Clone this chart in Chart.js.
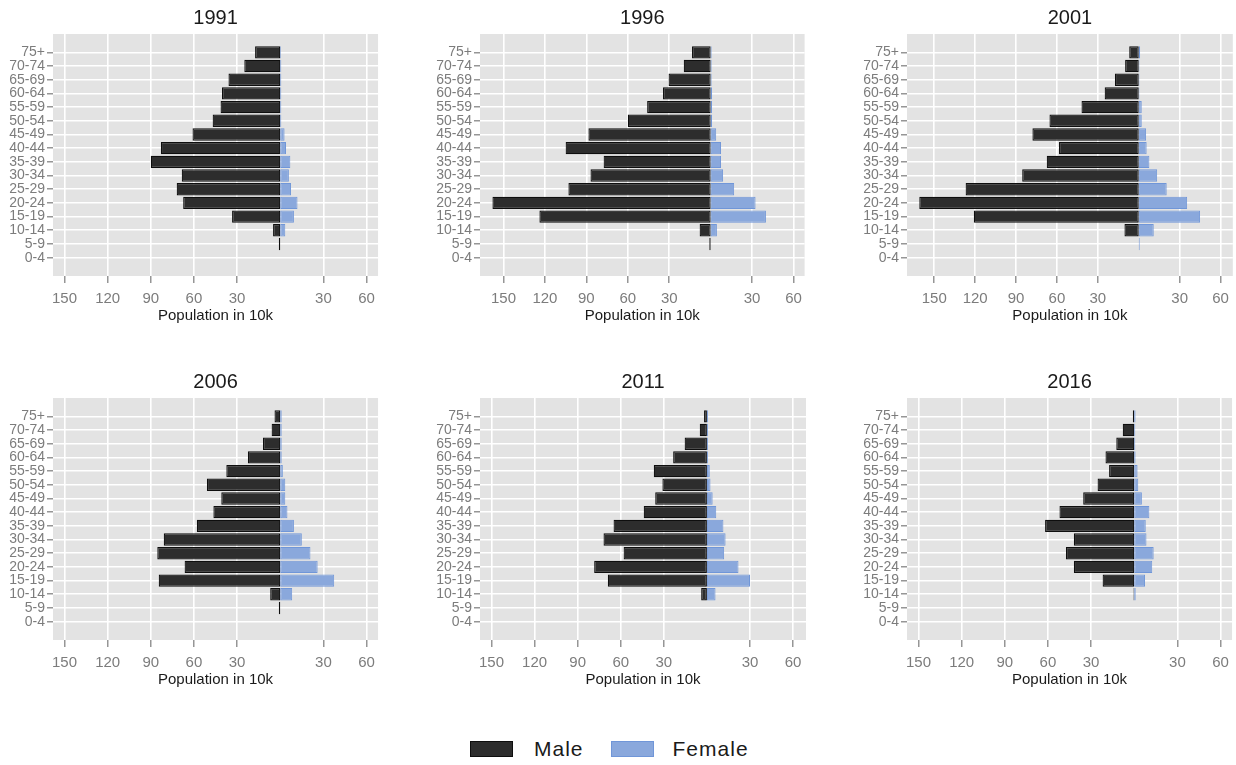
<!DOCTYPE html>
<html>
<head>
<meta charset="utf-8">
<title>Population pyramids</title>
<script src="https://cdn.jsdelivr.net/npm/chart.js@4.4.1/dist/chart.umd.min.js"></script>
<style>
  html, body { margin: 0; padding: 0; background: #fff; }
  body { width: 1236px; height: 765px; position: relative; overflow: hidden;
         font-family: "Liberation Sans", Arial, sans-serif; }
  canvas.panel { position: absolute; }
  #legend { position: absolute; left: 470px; top: 736px; height: 26px;
            display: flex; align-items: center; }
  .swatch { width: 43px; height: 16px; box-sizing: border-box; }
  .lbl { font-size: 21px; letter-spacing: 1px; color: #1a1a1a; }
</style>
</head>
<body>

<canvas class="panel" id="p0" width="382" height="330" style="left:0px;top:0px"></canvas>
<canvas class="panel" id="p1" width="382" height="330" style="left:427px;top:0px"></canvas>
<canvas class="panel" id="p2" width="382" height="330" style="left:854px;top:0px"></canvas>
<canvas class="panel" id="p3" width="382" height="330" style="left:0px;top:364px"></canvas>
<canvas class="panel" id="p4" width="382" height="330" style="left:427px;top:364px"></canvas>
<canvas class="panel" id="p5" width="382" height="330" style="left:854px;top:364px"></canvas>

<div id="legend">
  <div class="swatch" id="swMale"></div>
  <span class="lbl" style="margin-left:21px">Male</span>
  <div class="swatch" id="swFemale" style="margin-left:27px"></div>
  <span class="lbl" style="margin-left:19px">Female</span>
</div>

<script>
/*===== DATA (population in 10k, youngest group first) =====*/
const ageGroups = ["0-4", "5-9", "10-14", "15-19", "20-24", "25-29", "30-34", "35-39",
  "40-44", "45-49", "50-54", "55-59", "60-64", "65-69", "70-74", "75+"];

const years = ["1991", "1996", "2001", "2006", "2011", "2016"];

const male1991 = [0, 1, 5, 33.5, 67.5, 72, 68.5, 90, 83, 61, 47, 41.5, 40.5, 36, 25, 17.5];
const female1991 = [0, 0, 3.5, 9.5, 12, 7.5, 6, 7, 4, 3, 0.7, 0.7, 0.7, 0.7, 0.7, 0.5];

const male1996 = [0, 1, 8, 124, 158, 103, 87, 77.5, 105, 88.5, 60, 46, 34.5, 30.5, 19.5, 13.5];
const female1996 = [0, 0, 4.5, 40, 32.5, 17, 9, 7.5, 7.5, 4, 1, 1, 1, 0.7, 0.7, 0.7];

const male2001 = [0, 0, 10.5, 121, 161, 127, 85.5, 67.5, 58.5, 78, 65.5, 42, 25, 17.5, 10, 7];
const female2001 = [0, 0.7, 11, 45, 35.5, 20.5, 13.5, 7.8, 5.8, 5.4, 2.2, 2.2, 0.5, 0.5, 0.5, 1];

const male2006 = [0, 1, 7, 84.5, 66.5, 85.5, 81, 58, 46.5, 41, 51, 37.5, 22.5, 12, 6, 4];
const female2006 = [0, 0, 8.3, 37.5, 26, 21, 15, 9.5, 5, 3.5, 3.5, 1.8, 1, 1, 1, 1];

const male2011 = [0, 0, 4, 69, 78.5, 58, 72, 65, 44, 36, 31, 37, 23.5, 15.5, 5, 2];
const female2011 = [0, 0, 6, 30, 22, 12, 13, 11.5, 6.5, 4, 2.5, 2, 0.7, 0.7, 0.7, 0.7];

const male2016 = [0, 0, 0.5, 22, 42, 47.5, 42, 62, 52, 35.5, 25.5, 17.5, 20, 12.5, 8, 1];
const female2016 = [0, 0, 1, 7.5, 12.5, 13.5, 8.5, 8, 10.5, 5.3, 2.8, 2.3, 0.9, 0.7, 0.7, 0.9];

// x axis breaks (males left, females right) and per-panel limits
const xTicks = [-150, -120, -90, -60, -30, 30, 60];
const xMin = [-158, -167, -170, -158, -158, -158];
const xMax = [68, 68, 69, 68, 69, 68];

const maleSeries = [male1991, male1996, male2001, male2006, male2011, male2016];
const femaleSeries = [female1991, female1996, female2001, female2006, female2011, female2016];

/*===== STYLE =====*/
const MALE_FILL = "#2d2d2d", MALE_LINE = "#0e0e0e";
const FEMALE_FILL = "#8aa8dc", FEMALE_LINE = "#7096d8";
const PANEL_BG = "#e3e3e3";
const TICK_GREY = "#7c7c7c";
const FONT = "'Liberation Sans', Arial, sans-serif";

document.getElementById("swMale").style.cssText += `background:${MALE_FILL};border:1px solid ${MALE_LINE};`;
document.getElementById("swFemale").style.cssText += `background:${FEMALE_FILL};border:1px solid ${FEMALE_LINE};`;

// grey panel background like ggplot
const panelBackground = {
  id: "panelBackground",
  beforeDraw(chart) {
    const { ctx, chartArea: a } = chart;
    ctx.save();
    ctx.fillStyle = PANEL_BG;
    ctx.fillRect(a.left, a.top, a.right - a.left, a.bottom - a.top);
    ctx.restore();
  },
};

// facet title centred over the panel (not the canvas)
const panelTitle = {
  id: "panelTitle",
  afterDraw(chart, args, opts) {
    const { ctx, chartArea: a } = chart;
    ctx.save();
    ctx.font = `20px ${FONT}`;
    ctx.fillStyle = "#1a1a1a";
    ctx.textAlign = "center";
    ctx.textBaseline = "middle";
    ctx.fillText(opts.text, (a.left + a.right) / 2, a.top - 16);
    ctx.restore();
  },
};

function makePyramid(i) {
  const ctx = document.getElementById("p" + i).getContext("2d");
  const pad = 1.34; // ggplot style expansion around the first/last group

  new Chart(ctx, {
    type: "bar",
    data: {
      datasets: [
        {
          label: "Female",
          data: femaleSeries[i].map((v, k) => ({ x: v, y: k })),
          backgroundColor: FEMALE_FILL,
          borderColor: FEMALE_LINE,
          borderWidth: 1,
          borderSkipped: false,
          grouped: false,
          categoryPercentage: 1,
          barPercentage: 0.9,
        },
        {
          label: "Male",
          data: maleSeries[i].map((v, k) => ({ x: -v, y: k })),
          backgroundColor: MALE_FILL,
          borderColor: MALE_LINE,
          borderWidth: 1.2,
          borderSkipped: false,
          grouped: false,
          categoryPercentage: 1,
          barPercentage: 0.9,
        },
      ],
    },
    options: {
      indexAxis: "y",
      responsive: false,
      animation: false,
      layout: { padding: { top: 34, left: 0, right: 3, bottom: 0 } },
      scales: {
        x: {
          type: "linear",
          min: xMin[i],
          max: xMax[i],
          afterBuildTicks: (scale) => {
            scale.ticks = xTicks.map((v) => ({ value: v }));
          },
          afterFit: (scale) => {
            scale.height = 54;
          },
          ticks: {
            callback: (v) => Math.abs(v),
            color: TICK_GREY,
            font: { family: FONT, size: 15 },
            padding: 7,
            maxRotation: 0,
            autoSkip: false,
          },
          grid: { color: "#ffffff", lineWidth: 1.6, tickColor: TICK_GREY, tickLength: 7, tickWidth: 1.2 },
          border: { display: false },
          title: {
            display: true,
            text: "Population in 10k",
            color: "#1a1a1a",
            font: { family: FONT, size: 15 },
            padding: { top: 0, bottom: 5 },
          },
        },
        y: {
          type: "linear",
          offset: false,
          min: -pad,
          max: ageGroups.length - 1 + pad,
          afterBuildTicks: (scale) => {
            scale.ticks = ageGroups.map((_, k) => ({ value: k }));
          },
          afterFit: (scale) => {
            scale.width = 53;
          },
          ticks: {
            callback: (v) => ageGroups[v],
            color: TICK_GREY,
            font: { family: FONT, size: 14 },
            padding: 2,
            autoSkip: false,
          },
          grid: { offset: false, color: "#ffffff", lineWidth: 1.6, tickColor: TICK_GREY, tickLength: 6, tickWidth: 1.2 },
          border: { display: false },
        },
      },
      plugins: {
        legend: { display: false },
        tooltip: { enabled: false },
        title: { display: false },
        panelTitle: { text: years[i] },
      },
    },
    plugins: [panelBackground, panelTitle],
  });
}

years.forEach((y, i) => makePyramid(i));
</script>
</body>
</html>
